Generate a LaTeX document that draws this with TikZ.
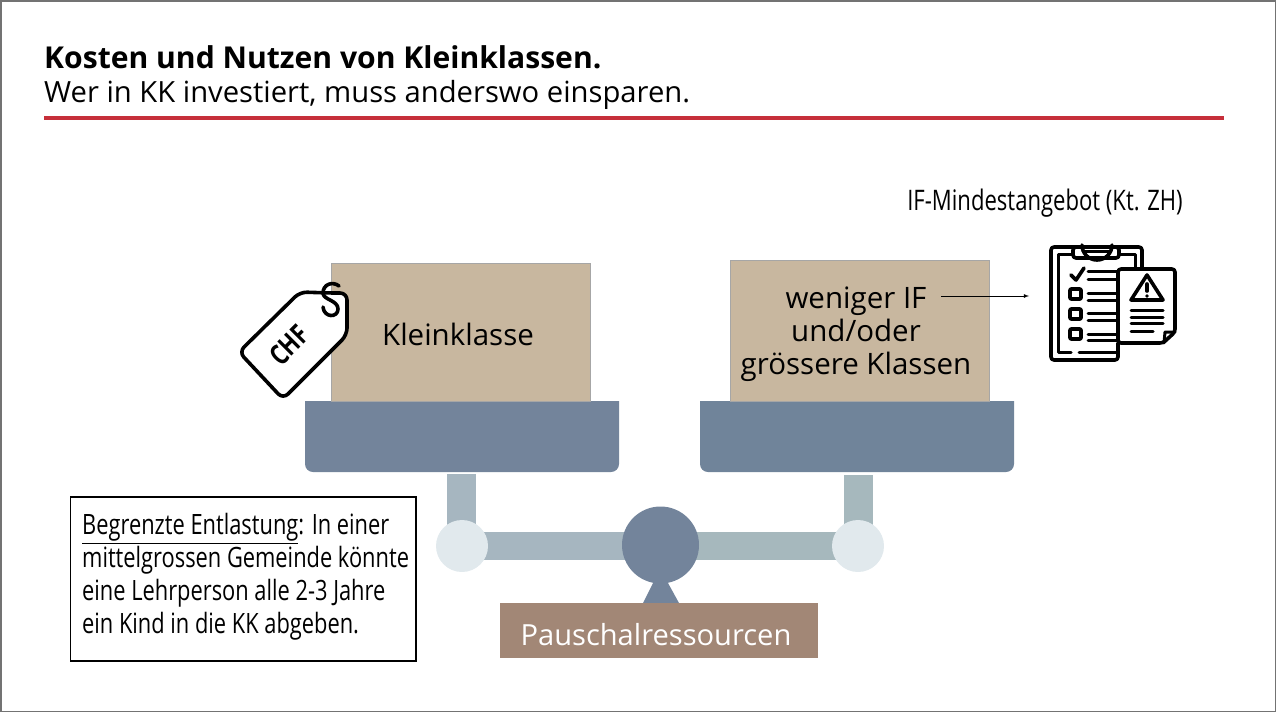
\documentclass[tikz,border=0pt]{standalone}
\usepackage{fontspec}
\setmainfont{Open Sans}
\newfontfamily\condfont[FakeStretch=0.78]{Open Sans}
\definecolor{boxtan}{HTML}{C8B79F}
\definecolor{panblue}{HTML}{73849B}
\definecolor{pangreen}{HTML}{70849A}
\definecolor{barblue}{HTML}{A6B6C0}
\definecolor{bargreen}{HTML}{A6B8BD}
\definecolor{jointblue}{HTML}{E1E9ED}
\definecolor{basebrown}{HTML}{A28776}
\definecolor{rulered}{HTML}{C62F3A}
\tikzset{
  weight/.style={draw=black!35,line width=0.5pt,fill=boxtan,anchor=north west,inner sep=0pt},
  weightlabel/.style={anchor=base,inner sep=0pt,font=\fontsize{29.5}{33}\selectfont},
  iconline/.style={line width=3.6pt,line cap=round,line join=round},
  thinline/.style={line width=3pt,line cap=round,line join=round},
}
\begin{document}
\begin{tikzpicture}[x=1pt,y=-1pt]
\useasboundingbox (0,0) rectangle (1276,712);
\draw[black!55,line width=1.5pt] (0.75,0.75) rectangle (1275.25,711.25);

\node [anchor=base west,inner sep=0pt] (title) at (44,68) {\fontsize{30.1}{33}\selectfont\bfseries Kosten und Nutzen von Kleinklassen.};
\node [anchor=base west,inner sep=0pt] (subtitle) at (44,102) {\fontsize{29.2}{33}\selectfont Wer in KK investiert, muss anderswo einsparen.};
\draw[rulered,line width=3.2pt] (44,118)--(1224,118);

% scale
\fill[barblue] (447,474) rectangle (476,530);
\fill[bargreen] (844,475) rectangle (873,530);
\fill[barblue] (470,532) rectangle (640,560);
\fill[bargreen] (640,532) rectangle (860,560);
\fill[panblue] (643,603)--(653,583)--(668,583)--(679,603)--cycle;
\fill[jointblue] (462,546) circle (26);
\fill[jointblue] (858,546) circle (26);
\fill[panblue] (660.5,545) circle (38.5);
\fill[panblue] (305,401)--(619,401)--(619,464) arc (0:90:8)--(313,472) arc (90:180:8)--cycle;
\fill[pangreen] (700,401)--(1014,401)--(1014,464) arc (0:90:8)--(708,472) arc (90:180:8)--cycle;

\node [weight,minimum width=259pt,minimum height=138pt] (kleinklasse) at (331,263) {};
\node [weightlabel] (kleinklasselabel) at (458,345) {Kleinklasse};
\node [weight,minimum width=259pt,minimum height=141pt] (weniger) at (730,260) {};
\node [weightlabel] (wenigerlabel) at (856,308) {weniger IF};
\node [weightlabel] (oderlabel) at (856,341) {und/oder};
\node [weightlabel] (groesserelabel) at (856,374) {grössere Klassen};
\node [fill=basebrown,anchor=north west,inner sep=0pt,minimum width=318pt,minimum height=55pt] (pauschal) at (500,603) {};
\node [weightlabel,text=white,font=\fontsize{29.1}{33}\selectfont] (pauschallabel) at (656,645) {Pauschalressourcen};

\node [draw=black,line width=1.5pt,fill=white,anchor=north west,inner sep=0pt,minimum width=345.5pt,minimum height=164pt] (entlastung) at (69.5,496) {};
\node [anchor=north west,inner sep=0pt,align=left,font=\condfont\fontsize{28}{33}\selectfont] (entlastungtext) at (82,513.5) {\underline{Begrenzte Entlastung}: In einer\\mittelgrossen Gemeinde könnte\\eine Lehrperson alle 2-3 Jahre\\ein Kind in die KK abgeben.};

\node [anchor=center,inner sep=0pt,font=\condfont\fontsize{28.3}{33}\selectfont] (angebot) at (1045,203) {IF-Mindestangebot (Kt. ZH)};

\coordinate (arrowstart) at (941,296);
\coordinate (arrowend) at (1029,296);
\draw[-latex,line width=0.8pt] (arrowstart)--(arrowend);

% price tag
\draw[iconline,fill=white,rounded corners=7pt] (330,293)--(300,292)--(239,352)--(283,399)--(347,335)--(347,293)--cycle;
\node [rotate=45,inner sep=0pt,font=\condfont\bfseries\fontsize{28}{30}\selectfont] (chf) at (289,345) {CHF};
\draw[iconline] (339,286) .. controls (333,281) and (323,284) .. (323,293) .. controls (323,300) and (338,300) .. (338,309) .. controls (338,318) and (324,318) .. (323,307);

% clipboard icon
\draw[iconline,rounded corners=3pt] (1118,343)--(1118,360)--(1051,360)--(1051,247)--(1142,247)--(1142,268);
\draw[thinline] (1118,352)--(1079,352);
\draw[thinline] (1071,352)--(1058,352)--(1058,254)--(1073,254);
\draw[thinline] (1119,254)--(1135,254)--(1135,268);
\draw[iconline,fill=white,rounded corners=3pt] (1073,247) rectangle (1119,258);
\draw[thinline] (1083,251.5)--(1109,251.5);
\draw[iconline] (1082,245) arc (180:0:15);
\draw[iconline] (1071,275)--(1076,280)--(1084,268);
\foreach \ypos in {275,297,340,360,400,420,462,482}
  \draw[thinline] (1088,180+\ypos/3)--(1117,180+\ypos/3);
\foreach \ypos in {290,310,330}
  \draw[iconline,rounded corners=1pt] (1070,\ypos-1) rectangle (1081,\ypos+9);
\draw[iconline,fill=white,rounded corners=3pt] (1118,269)--(1175,269)--(1175,332)--(1163,343)--(1118,343)--cycle;
\draw[thinline] (1175,332)--(1165,332)--(1164,343);
\draw[iconline] (1147,275)--(1131,300)--(1163,300)--cycle;
\draw[iconline] (1147,284)--(1147,291);
\fill (1147,296) circle (1.9);
\foreach \ypos in {310,317,323}
  \draw[thinline] (1131,\ypos)--(1163,\ypos);
\draw[thinline] (1131,331)--(1153,331);
\end{tikzpicture}
\end{document}
